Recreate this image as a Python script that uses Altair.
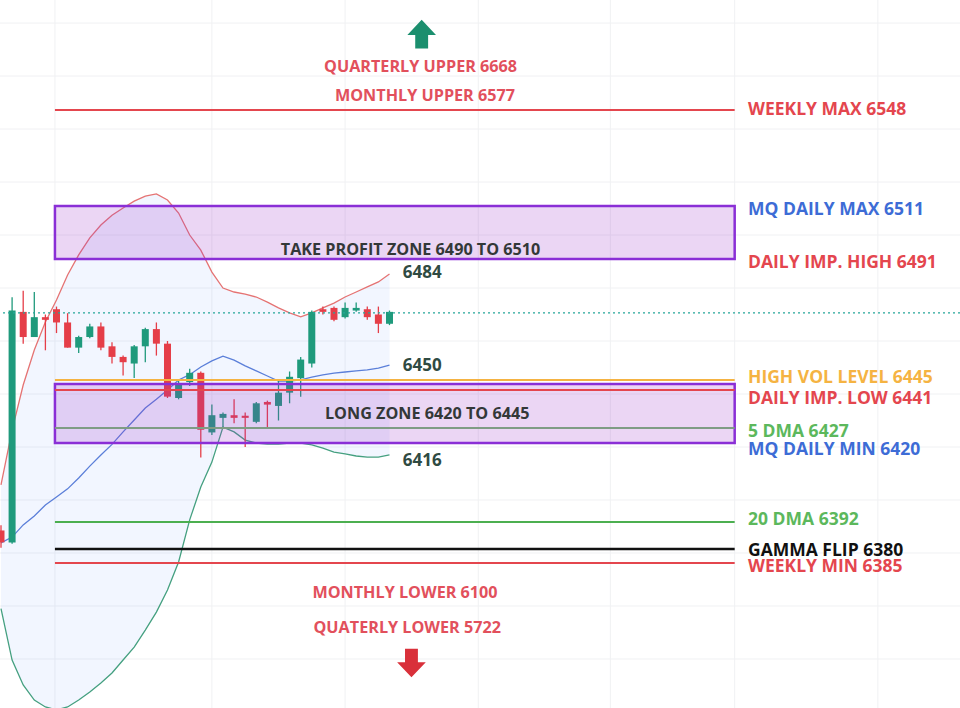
import altair as alt
import pandas as pd

# ---------------- candle data (bar index 0..35) ----------------
opens = [6388.5, 6384, 6471, 6461.5, 6469, 6472, 6467, 6457.5, 6461.5, 6465.5,
         6458, 6454, 6451.5, 6458, 6464.5, 6459, 6438.5, 6444.5, 6448, 6425.5,
         6431, 6432, 6431.8, 6429.5, 6437, 6435.5, 6440.5, 6446, 6451.5, 6472,
         6472.5, 6469, 6471.5, 6472, 6470, 6466.5]
closes = [6384, 6471.5, 6461.5, 6469, 6468, 6467, 6457.5, 6461.5, 6465.5, 6457.5,
          6454, 6452, 6458, 6464.5, 6459, 6439, 6444, 6448, 6426.5, 6432,
          6432.5, 6431, 6431, 6436.5, 6436, 6440.5, 6446.5, 6453, 6471, 6471,
          6468, 6472.5, 6472.5, 6469, 6466.5, 6471]
highs = [6390.5, 6476.5, 6479, 6478.5, 6470, 6473, 6470.5, 6462, 6466.5, 6467,
         6459.5, 6454.5, 6458.5, 6465, 6467, 6460, 6445, 6449.5, 6448.5, 6436,
         6433, 6438, 6433, 6437, 6437.5, 6445, 6448.5, 6454, 6471.5, 6473,
         6473, 6474.5, 6474.5, 6473, 6473, 6471.5]
lows = [6382, 6383.5, 6459, 6461.5, 6456.5, 6463, 6457.5, 6455.5, 6461, 6456.5,
        6451.5, 6447, 6446, 6452, 6454.5, 6438.5, 6438, 6443, 6416, 6424.5,
        6427.5, 6429, 6420, 6429, 6427.5, 6430, 6436.5, 6439, 6450, 6470,
        6467.5, 6468.5, 6471, 6468, 6463, 6466]

# ---------------- bollinger bands ----------------
upper_band = [6405.7, 6426.4, 6443.4, 6456.6, 6467.2, 6475.5, 6484.9, 6492.5, 6498.9, 6503.8,
              6507.5, 6510.2, 6512.8, 6514.7, 6515.5, 6513.2, 6508.3, 6500.0, 6494.3, 6486.0,
              6480.0, 6478.5, 6477.7, 6476.6, 6474.7, 6472.5, 6470.6, 6469.1, 6470.6, 6472.5,
              6474.3, 6476.6, 6478.5, 6480.4, 6482.3, 6485.3]
middle_band = [6383.8, 6386.0, 6390.6, 6394.0, 6398.1, 6401.1, 6404.2, 6408.3, 6412.8, 6417.0,
               6421.0, 6425.7, 6430.2, 6434.7, 6438.0, 6441.5, 6445.3, 6447.3, 6450.2, 6452.5,
               6454.3, 6452.8, 6450.6, 6448.7, 6446.8, 6444.9, 6444.9, 6445.3, 6446.4, 6447.2,
               6447.9, 6448.3, 6448.7, 6449.1, 6449.8, 6450.9]
lower_band = [6359.0, 6339.6, 6330.2, 6324.5, 6321.9, 6320.8, 6321.9, 6324.5, 6327.5, 6330.9,
              6334.7, 6339.6, 6344.5, 6350.9, 6357.7, 6366.0, 6376.6, 6392.5, 6404.9, 6414.3,
              6427.5, 6425.7, 6422.6, 6421.5, 6421.1, 6421.1, 6421.5, 6421.5, 6420.8, 6419.6,
              6418.1, 6417.4, 6416.6, 6416.2, 6416.2, 6417.0]

# ---------------- levels ----------------
level_values = [6547.2, 6445.3, 6441.5, 6427.2, 6391.7, 6381.5, 6376.2]
level_colors = ["#e4464e", "#f5b342", "#e4464e", "#7f9c84", "#4caf50", "#111111", "#e4464e"]
level_widths = [2, 2, 2, 2, 2, 2.5, 2]
last_price = 6470.6

zone_names = ["TAKE PROFIT", "LONG"]
zone_low = [6491.0, 6421.5]
zone_high = [6511.0, 6443.8]
zone_start = 4.86
zone_end = 66.1

right_labels = ["WEEKLY MAX 6548", "MQ DAILY MAX 6511", "DAILY IMP. HIGH 6491",
                "HIGH VOL LEVEL 6445", "DAILY IMP. LOW 6441", "5 DMA 6427",
                "MQ DAILY MIN 6420", "20 DMA 6392", "GAMMA FLIP 6380", "WEEKLY MIN 6385"]
right_label_y = [6547.2, 6509.4, 6489.4, 6446.0, 6438.1, 6425.7, 6418.9, 6392.5, 6380.8, 6374.7]
right_label_colors = ["#e4464e", "#3d6cd6", "#e4464e", "#f5b342", "#e4464e", "#5cb85c",
                      "#3d6cd6", "#5cb85c", "#111111", "#e4464e"]
right_label_x = 67.3

center_labels = ["QUARTERLY UPPER 6668", "MONTHLY UPPER 6577", "TAKE PROFIT ZONE 6490 TO 6510",
                 "LONG ZONE 6420 TO 6445", "MONTHLY LOWER 6100", "QUATERLY LOWER 5722"]
center_label_x = [37.8, 38.2, 36.9, 38.4, 36.4, 36.6]
center_label_y = [6563.4, 6552.5, 6494.3, 6432.5, 6364.9, 6351.7]
center_label_colors = ["#e2505c", "#e2505c", "#333838", "#333838", "#e2505c", "#e2505c"]

band_labels = ["6484", "6450", "6416"]
band_label_y = [6485.7, 6450.6, 6414.7]
band_label_x = 36.2

arrow_x = [37.9, 36.98]
arrow_y = [6575.8, 6338.5]
arrow_colors = ["#1b8f6e", "#d9303a"]
arrow_dirs = ["up", "down"]

grid_prices = [6340, 6360, 6380, 6400, 6420, 6440, 6460, 6480, 6500, 6520, 6540, 6560, 6580]
grid_bars = [4.86, 19.0, 31.0, 43.0, 54.9, 66.1, 79.0]

# ---------------- tables ----------------
n = len(opens)
candles = pd.DataFrame({
    "i": list(range(n)), "open": opens, "close": closes, "high": highs, "low": lows,
})
candles["color"] = ["#1f9a7c" if c >= o else "#e53e48" for o, c in zip(opens, closes)]

bands = pd.DataFrame({"i": list(range(n)), "upper": upper_band,
                      "middle": middle_band, "lower": lower_band})

levels = pd.DataFrame({"v": level_values, "c": level_colors, "w": level_widths,
                       "x0": zone_start, "x1": zone_end})
zones = pd.DataFrame({"name": zone_names, "lo": zone_low, "hi": zone_high,
                      "x0": zone_start, "x1": zone_end})
rl = pd.DataFrame({"t": right_labels, "y": right_label_y, "c": right_label_colors,
                   "x": right_label_x})
cl = pd.DataFrame({"t": center_labels, "x": center_label_x, "y": center_label_y,
                   "c": center_label_colors})
bl = pd.DataFrame({"t": band_labels, "y": band_label_y, "x": band_label_x})
arrows = pd.DataFrame({"x": arrow_x, "y": arrow_y, "c": arrow_colors, "d": arrow_dirs})
gh = pd.DataFrame({"v": grid_prices})
gv = pd.DataFrame({"v": grid_bars})
lp = pd.DataFrame({"v": [last_price]})

xs = alt.Scale(domain=[-0.09, 86.4], nice=False, zero=False)
ys = alt.Scale(domain=[6321.5, 6588.7], nice=False, zero=False)


def X(f):
    return alt.X(f, type="quantitative", scale=xs, axis=None)


def Y(f):
    return alt.Y(f, type="quantitative", scale=ys, axis=None)


FONT = "Open Sans"

grid_h = alt.Chart(gh).mark_rule(color="#f0f1f3", strokeWidth=1).encode(y=Y("v"))
grid_v = alt.Chart(gv).mark_rule(color="#f0f1f3", strokeWidth=1).encode(x=X("v"))

band_fill = alt.Chart(bands).mark_area(color="#2962ff", opacity=0.06, clip=True).encode(
    x=X("i"), y=Y("upper"), y2="lower")
up_line = alt.Chart(bands).mark_line(color="#e57373", strokeWidth=1.3, clip=True).encode(
    x=X("i"), y=Y("upper"))
mid_line = alt.Chart(bands).mark_line(color="#5b7fd9", strokeWidth=1.3, clip=True).encode(
    x=X("i"), y=Y("middle"))
low_line = alt.Chart(bands).mark_line(color="#45a080", strokeWidth=1.3, clip=True).encode(
    x=X("i"), y=Y("lower"))

wicks = alt.Chart(candles).mark_rule(strokeWidth=1.3, clip=True).encode(
    x=X("i"), y=Y("low"), y2="high", color=alt.Color("color:N", scale=None))
bodies = alt.Chart(candles).mark_rule(strokeWidth=7, clip=True).encode(
    x=X("i"), y=Y("open"), y2="close", color=alt.Color("color:N", scale=None))

zone_rects = alt.Chart(zones).mark_rect(fill="#9b30c8", fillOpacity=0.2,
                                        stroke="#8a2fd6", strokeWidth=2.5).encode(
    x=X("x0"), x2="x1", y=Y("lo"), y2="hi")

level_rules = alt.Chart(levels).mark_rule().encode(
    x=X("x0"), x2="x1", y=Y("v"),
    color=alt.Color("c:N", scale=None),
    strokeWidth=alt.StrokeWidth("w:Q", scale=None))

last_rule = alt.Chart(lp).mark_rule(color="#26a69a", strokeWidth=1.2,
                                    strokeDash=[2, 3]).encode(y=Y("v"))

right_text = alt.Chart(rl).mark_text(align="left", baseline="middle", font=FONT,
                                     fontSize=17.5, fontWeight="bold").encode(
    x=X("x"), y=Y("y"), text="t:N", color=alt.Color("c:N", scale=None))
center_text = alt.Chart(cl).mark_text(align="center", baseline="middle", font=FONT,
                                      fontSize=16.2, fontWeight="bold").encode(
    x=X("x"), y=Y("y"), text="t:N", color=alt.Color("c:N", scale=None))
band_text = alt.Chart(bl).mark_text(align="left", baseline="middle", font=FONT,
                                    fontSize=17, fontWeight="bold", color="#2f4a42").encode(
    x=X("x"), y=Y("y"), text="t:N")

UP = "M0,-1 L1,0.05 L0.45,0.05 L0.45,1 L-0.45,1 L-0.45,0.05 L-1,0.05 Z"
DOWN = "M0,1 L1,-0.05 L0.45,-0.05 L0.45,-1 L-0.45,-1 L-0.45,-0.05 L-1,-0.05 Z"
arrow_up = alt.Chart(arrows[arrows.d == "up"]).mark_point(
    shape=UP, filled=True, size=820, opacity=1, strokeWidth=0).encode(
    x=X("x"), y=Y("y"), color=alt.Color("c:N", scale=None))
arrow_down = alt.Chart(arrows[arrows.d == "down"]).mark_point(
    shape=DOWN, filled=True, size=820, opacity=1, strokeWidth=0).encode(
    x=X("x"), y=Y("y"), color=alt.Color("c:N", scale=None))

chart = alt.layer(
    grid_h, grid_v, band_fill, up_line, mid_line, low_line, wicks, bodies,
    zone_rects, level_rules, last_rule, right_text, center_text, band_text,
    arrow_up, arrow_down
).properties(
    width=960, height=708, padding=0, background="white",
    autosize=alt.AutoSizeParams(type="none")
).configure_view(stroke=None)

chart.save("out.html", embed_options={"renderer": "svg", "actions": False})
